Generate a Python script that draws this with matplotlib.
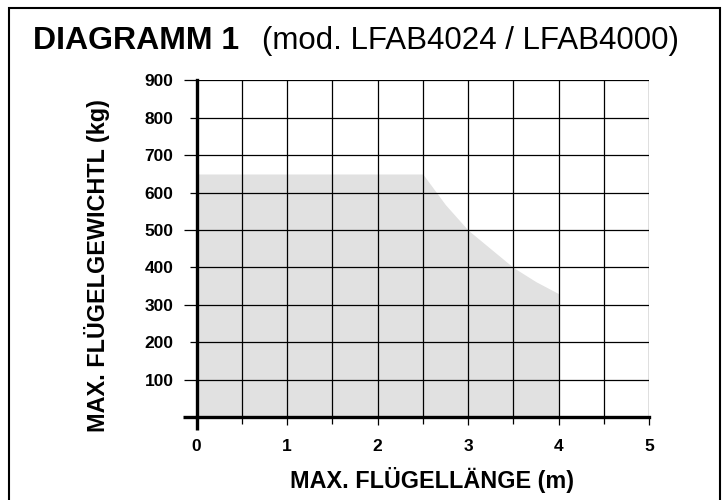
import matplotlib.pyplot as plt
from matplotlib.patches import Rectangle

# ============================================================================
# DATA
# ============================================================================
length_m = [0, 2.5, 2.75, 3.0, 3.25, 3.5, 3.75, 4.0]
weight_kg = [650, 650, 568, 500, 450, 400, 362, 330]

x_ticks = [0, 1, 2, 3, 4, 5]
x_minor = [0.5, 1.5, 2.5, 3.5, 4.5]
y_ticks = [100, 200, 300, 400, 500, 600, 700, 800, 900]

title_bold = 'DIAGRAMM 1'
title_rest = '(mod. LFAB4024 / LFAB4000)'
x_label = 'MAX. FLÜGELLÄNGE (m)'
y_label = 'MAX. FLÜGELGEWICHTL (kg)'

# ============================================================================
# PLOT
# ============================================================================
plt.rcParams['font.family'] = ['Liberation Sans', 'DejaVu Sans']

fig = plt.figure(figsize=(7.22, 5.0), dpi=100)
ax = fig.add_axes([0.2722, 0.166, 0.6267, 0.673])

# outer frame of the whole figure (bottom edge runs off the picture)
fig.patches.append(Rectangle((0.0125, -0.1), 0.985, 1.084, transform=fig.transFigure,
                             fill=False, edgecolor='black', linewidth=1.5))

# shaded area of allowed weight / length
ax.fill_between(length_m + [length_m[-1]], weight_kg + [0], 0,
                color='#e1e1e1', linewidth=0, zorder=1)

ax.set_xlim(0, 5)
ax.set_ylim(0, 900)
ax.set_xticks(x_ticks)
ax.set_xticks(x_minor, minor=True)
ax.set_yticks(y_ticks)

# grid lines every 0.5 m and 100 kg
for v in x_ticks + x_minor:
    if v > 0:
        ax.axvline(v, color='black', linewidth=0.9, zorder=2)
for v in y_ticks:
    ax.axhline(v, color='black', linewidth=0.9, zorder=2)

for s in ['top', 'right']:
    ax.spines[s].set_visible(False)
for s in ['left', 'bottom']:
    ax.spines[s].set_linewidth(2.4)
    ax.spines[s].set_zorder(3)

# thick axes run a little past the origin
ax.plot([-0.145, 0], [0, 0], color='black', linewidth=2.4, clip_on=False,
        solid_capstyle='butt', zorder=3)
ax.plot([0, 0], [-36, 0], color='black', linewidth=2.4, clip_on=False,
        solid_capstyle='butt', zorder=3)

ax.tick_params(axis='x', which='major', direction='out', length=6, width=0.9,
               labelsize=12.5, pad=9.5)
ax.tick_params(axis='x', which='minor', direction='out', length=5, width=0.9)
ax.tick_params(axis='y', direction='out', length=9.4, width=0.9, labelsize=12.5, pad=7.2)
# every other y tick is shorter
for val, tick in zip(y_ticks, ax.yaxis.get_major_ticks()):
    if val % 200 == 0:
        tick.tick1line.set_markersize(5)
for lab in ax.get_xticklabels() + ax.get_yticklabels():
    lab.set_fontweight('bold')

ax.set_xlabel(x_label, fontsize=16.8, fontweight='bold', va='center')
ax.xaxis.set_label_coords(0.5215, -0.187)
ax.set_ylabel(y_label, fontsize=16.8, fontweight='bold', va='center')
ax.yaxis.set_label_coords(-0.22, 0.449)

fig.text(0.0457, 0.902, title_bold, fontsize=23, fontweight='bold', va='baseline')
fig.text(0.363, 0.902, title_rest, fontsize=22.5, va='baseline')

fig.savefig('out.png', dpi=100)
